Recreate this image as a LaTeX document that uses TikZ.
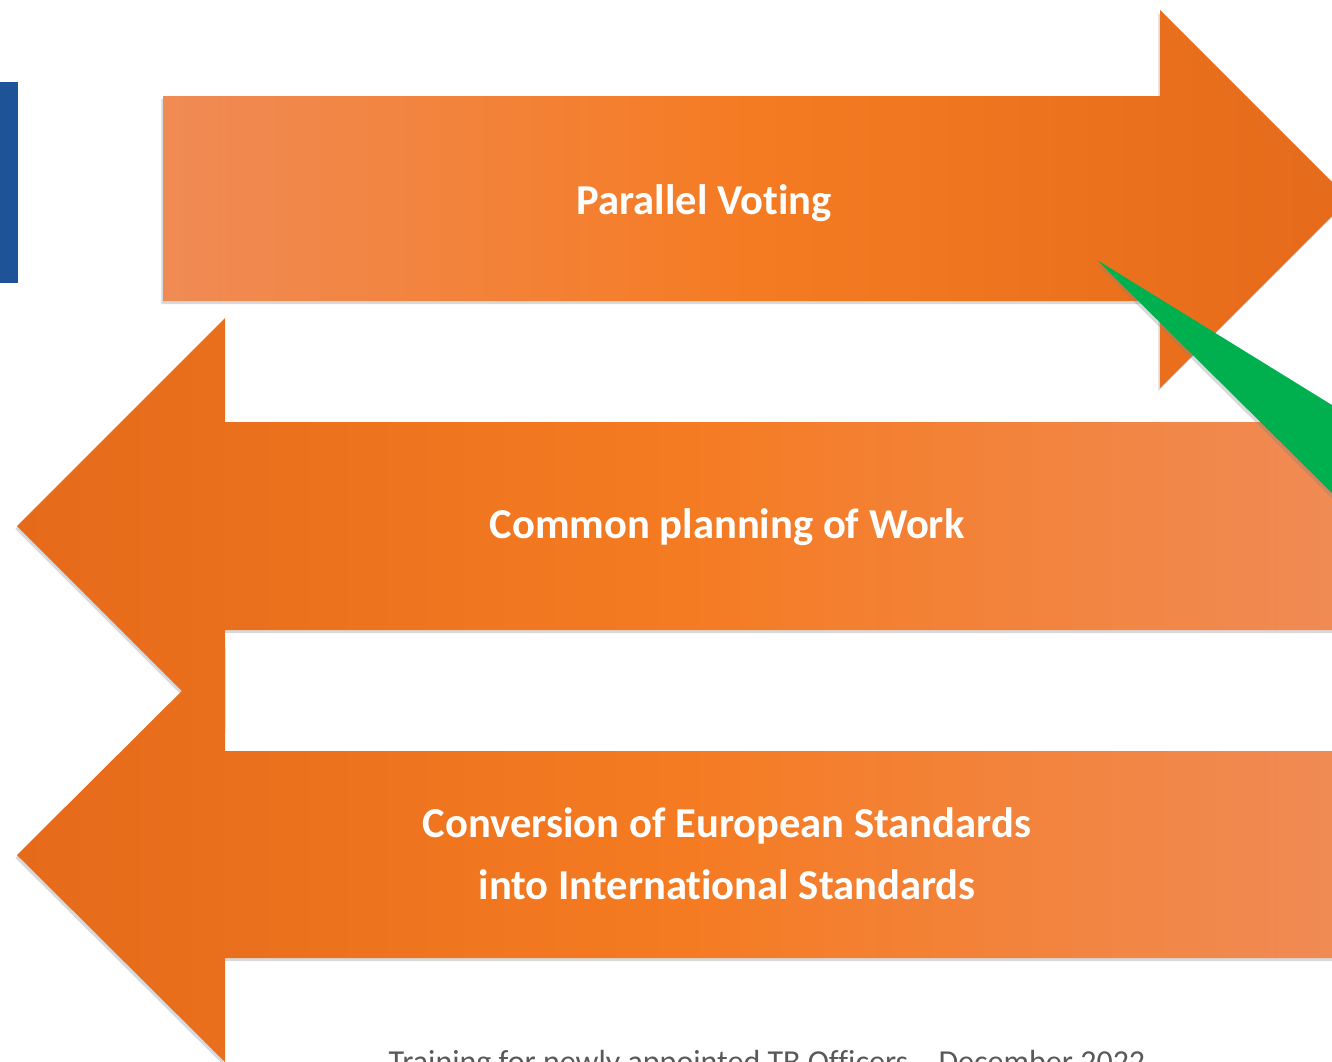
\documentclass[tikz,border=0pt]{standalone}
\usepackage{fontspec}
\setmainfont[Ligatures=NoCommon]{Carlito}
\newfontfamily\footfont[Ligatures=NoCommon]{Carlito}
\usetikzlibrary{shadows}
\definecolor{olight}{HTML}{F08B55}
\definecolor{omid}{HTML}{F57B22}
\definecolor{odark}{HTML}{E56A1A}
\definecolor{bluebar}{HTML}{1F5398}
\definecolor{greenw}{HTML}{00B04F}
\definecolor{footgray}{HTML}{595959}
\begin{document}
\begin{tikzpicture}[x=0.5pt,y=-0.5pt,
  arrowshape/.style={drop shadow={shadow xshift=-0.8pt,shadow yshift=-1.5pt,opacity=0.3}},
  label/.style={text=white,font=\fontsize{21.3pt}{24pt}\selectfont\bfseries,align=center}]
\useasboundingbox (0,0) rectangle (1332,1061);
\clip (0,0) rectangle (1332,1061);
% blue bar
\fill[bluebar] (0,82) rectangle (18,283);
% arrow 1 (right)
\path[arrowshape,left color=olight,right color=odark,middle color=omid]
  (163,96) -- (1160,96) -- (1160,10) -- (1349,199) -- (1160,388) -- (1160,301) -- (163,301) -- cycle;
% arrow 2 (left)
\path[arrowshape,left color=odark,right color=olight,middle color=omid]
  (1340,422) -- (225,422) -- (225,318) -- (17,526) -- (225,734) -- (225,630) -- (1340,630) -- cycle;
% arrow 3 (left)
\path[arrowshape,left color=odark,right color=olight,middle color=omid]
  (1340,751) -- (225,751) -- (225,648) -- (17,855) -- (225,1062) -- (225,958) -- (1340,958) -- cycle;
% green wedge
\path[fill=greenw,drop shadow={shadow xshift=-1pt,shadow yshift=-1.5pt,opacity=0.3}]
  (1097,260) -- (1340,410) -- (1340,501) -- cycle;
% labels
\node[label] (t1) at (704,203) {Parallel Voting};
\node[label] (t2) at (727,527) {Common planning of Work};
\node[label] (t3) at (727,854) {Conversion of European Standards\\[7pt]into International Standards};
\node[text=footgray,font=\footfont\fontsize{16pt}{19pt}\selectfont,anchor=base] (foot) at (767,1072)
  {Training for newly appointed TB Officers – December 2022};
\end{tikzpicture}
\end{document}
